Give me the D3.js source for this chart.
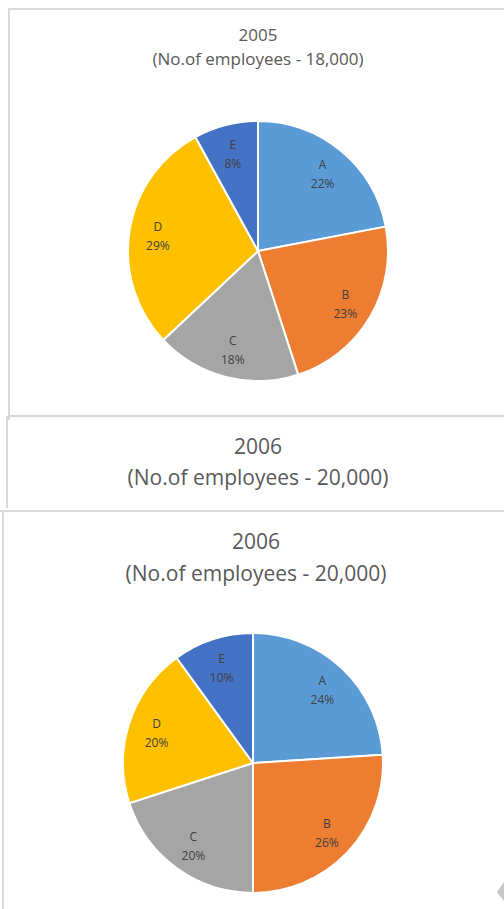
<!DOCTYPE html>
<html>
<head>
<meta charset="utf-8">
<script src="https://cdn.jsdelivr.net/npm/d3@7"></script>
<style>
  body { margin: 0; background: #fff; }
  svg text { font-family: "Open Sans", sans-serif; }
</style>
</head>
<body>
<div class="wrapper"></div>
<script>
// categories and shares (%)
var categories = ["A", "B", "C", "D", "E"];
var share2005 = [22, 23, 18, 29, 8];
var share2006 = [24, 26, 20, 20, 10];
var years = ["2005", "2006"];
var employees = ["18,000", "20,000"];

var width = 504,
    height = 909;

var color = d3.scaleOrdinal()
    .domain(categories)
    .range(["#5b9bd5", "#ed7d31", "#a5a5a5", "#ffc000", "#4472c4"]);

var svg = d3.select(".wrapper").append("svg")
    .attr("width", width)
    .attr("height", height);

// panel borders (screenshot of three stacked chart boxes)
var borders = svg.append("g")
    .attr("fill", "none")
    .attr("stroke", "#d9d9d9")
    .attr("stroke-width", 2);
borders.append("path").attr("d", "M9,420V9H504");
borders.append("path").attr("d", "M8,416H504");
borders.append("path").attr("d", "M7,416V508");
borders.append("path").attr("d", "M0,511H504");
borders.append("path").attr("d", "M3,511V909");

function titles(cx, y1, y2, size, year, emp) {
    svg.append("text")
        .attr("x", cx).attr("y", y1)
        .attr("text-anchor", "middle")
        .attr("font-size", size)
        .attr("fill", "#595959")
        .text(year);
    svg.append("text")
        .attr("x", cx).attr("y", y2)
        .attr("text-anchor", "middle")
        .attr("font-size", size)
        .attr("fill", "#595959")
        .text("(No.of employees - " + emp + ")");
}

function drawPie(values, cx, cy, r) {
    var data = categories.map(function(c, i) { return {cat: c, value: values[i]}; });
    var pie = d3.pie().sort(null).value(function(d) { return d.value; });
    var arc = d3.arc().innerRadius(0).outerRadius(r);
    var labelArc = d3.arc().innerRadius(r * 0.78).outerRadius(r * 0.78);

    var g = svg.append("g").attr("transform", "translate(" + cx + "," + cy + ")");

    g.selectAll("path")
        .data(pie(data))
        .enter().append("path")
        .attr("d", arc)
        .attr("fill", function(d) { return color(d.data.cat); })
        .attr("stroke", "#fff")
        .attr("stroke-width", 2);

    var labels = g.selectAll(".lbl")
        .data(pie(data))
        .enter().append("text")
        .attr("class", "lbl")
        .attr("transform", function(d) { return "translate(" + labelArc.centroid(d) + ")"; })
        .attr("text-anchor", "middle")
        .attr("font-size", 12)
        .attr("fill", "#404040");
    labels.append("tspan").attr("x", 0).attr("y", -4).text(function(d) { return d.data.cat; });
    labels.append("tspan").attr("x", 0).attr("y", 15).text(function(d) { return d.data.value + "%"; });
}

titles(258, 41, 65, 17, years[0], employees[0]);
drawPie(share2005, 258, 251, 130);

titles(258, 454, 485, 21, years[1], employees[1]);

titles(256, 549, 581, 21, years[1], employees[1]);
drawPie(share2006, 253, 763, 130);

// small scroll arrow at bottom right
svg.append("path")
    .attr("d", "M504,882L497,892L504,901Z")
    .attr("fill", "#c8c8c8");
</script>
</body>
</html>
